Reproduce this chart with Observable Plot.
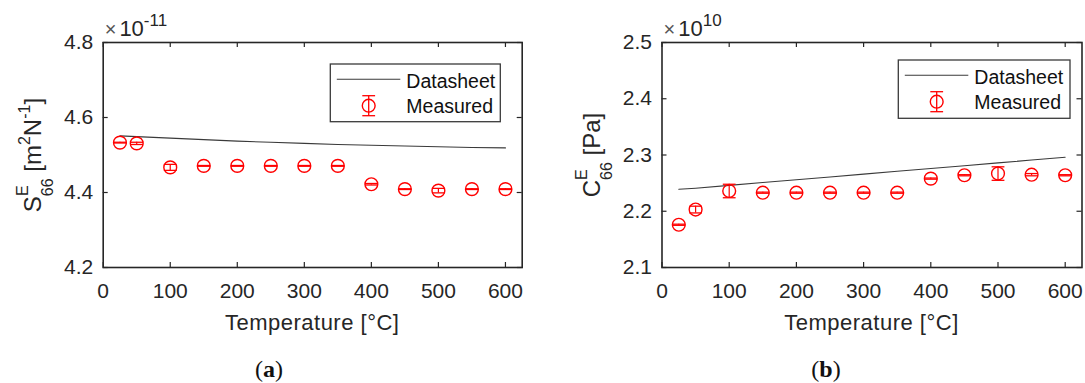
<!DOCTYPE html>
<html><head><meta charset="utf-8">
<script src="https://cdn.jsdelivr.net/npm/d3@7"></script>
<script src="https://cdn.jsdelivr.net/npm/@observablehq/plot@0.6"></script>
<style>
body{margin:0;background:#fff;}
#wrap{position:relative;width:1085px;height:383px;overflow:hidden;background:#fff;}
#wrap svg{position:absolute;top:0;overflow:visible;}
text{white-space:pre;}
</style></head><body><div id="wrap"></div>
<script>
// ---- data ----
const temps = [25, 50, 100, 150, 200, 250, 300, 350, 400, 450, 500, 550, 600];
// panel (a): S^E_66, in units of 1e-11 m^2/N
const sMeasured  = [4.533, 4.531, 4.467, 4.471, 4.471, 4.471, 4.471, 4.471, 4.422, 4.409, 4.405, 4.409, 4.409];
const sErr       = [0.001, 0.003, 0.008, 0.001, 0.001, 0.001, 0.001, 0.001, 0.002, 0.001, 0.006, 0.001, 0.001];
const sDatasheet = [4.551, 4.549, 4.545, 4.541, 4.537, 4.534, 4.531, 4.528, 4.526, 4.524, 4.522, 4.520, 4.519];
// panel (b): C^E_66, in units of 1e10 Pa
const cMeasured  = [2.176, 2.203, 2.236, 2.233, 2.233, 2.233, 2.233, 2.233, 2.258, 2.264, 2.267, 2.265, 2.264];
const cErr       = [0.001, 0.006, 0.012, 0.001, 0.001, 0.001, 0.001, 0.001, 0.001, 0.001, 0.012, 0.002, 0.001];
const cDatasheet = [2.239, 2.241, 2.246, 2.251, 2.256, 2.261, 2.266, 2.271, 2.276, 2.281, 2.286, 2.291, 2.296];
const xTicks  = [0, 100, 200, 300, 400, 500, 600];
const sYTicks = [4.2, 4.4, 4.6, 4.8];
const cYTicks = [2.1, 2.2, 2.3, 2.4, 2.5];
const xLabel = "Temperature [°C]";
const legendLabels = ["Datasheet", "Measured"];

const FONT = '"Liberation Sans", Arial, Helvetica, sans-serif';
const AX = "#262626";
const RED = "#ff0000";
const MT = 42, MB = 116, H = 383;

const capSymbol = { draw(ctx, size) { const w = Math.sqrt(size / Math.PI); ctx.moveTo(-w, 0); ctx.lineTo(w, 0); } };

function panel(o) {
  const meas = temps.map((t, i) => ({t, v: o.measured[i], lo: o.measured[i] - o.err[i], hi: o.measured[i] + o.err[i]}));
  const ds = temps.map((t, i) => ({t, v: o.sheet[i]}));
  const FH = H - MT - MB;
  const FW = o.width - o.marginLeft - o.marginRight;
  const svg = Plot.plot({
    width: o.width, height: H,
    marginLeft: o.marginLeft, marginRight: o.marginRight, marginTop: MT, marginBottom: MB,
    style: {fontFamily: FONT, color: AX, background: "transparent", overflow: "visible"},
    x: {domain: [0, 625]},
    y: {domain: o.yDomain},
    marks: [
      Plot.line(ds, {x: "t", y: "v", stroke: "#3a3a3a", strokeWidth: 1.1}),
      Plot.ruleX(meas, {x: "t", y1: "lo", y2: "hi", stroke: RED, strokeWidth: 1.2}),
      Plot.dot(meas, {x: "t", y: "lo", symbol: capSymbol, r: 6.4, stroke: RED, fill: "none", strokeWidth: 1.3}),
      Plot.dot(meas, {x: "t", y: "hi", symbol: capSymbol, r: 6.4, stroke: RED, fill: "none", strokeWidth: 1.3}),
      Plot.dot(meas, {x: "t", y: "v", r: 6.4, stroke: RED, fill: "none", strokeWidth: 1.4}),
      Plot.tickX(xTicks, {x: d => d, stroke: AX, strokeWidth: 1.2, insetTop: FH - 5}),
      Plot.tickX(xTicks, {x: d => d, stroke: AX, strokeWidth: 1.2, insetBottom: FH - 5}),
      Plot.tickY(o.yTicks, {y: d => d, stroke: AX, strokeWidth: 1.2, insetRight: FW - 5}),
      Plot.tickY(o.yTicks, {y: d => d, stroke: AX, strokeWidth: 1.2, insetLeft: FW - 5}),
      Plot.axisX({anchor: "bottom", ticks: xTicks, tickSize: 0, tickPadding: 16, tickFormat: d => String(d), fontSize: 21, color: AX, label: null}),
      Plot.axisY({anchor: "left", ticks: o.yTicks, tickSize: 0, tickPadding: 10, tickFormat: d => d.toFixed(1), fontSize: 21, color: AX, label: null}),
      Plot.frame({stroke: AX, strokeWidth: 1.6})
    ]
  });
  svg.style.left = o.left + "px";
  const s = d3.select(svg);
  const fl = o.marginLeft, fr = o.width - o.marginRight;
  // x label
  s.append("text").attr("x", (fl + fr) / 2).attr("y", 329.5).attr("text-anchor", "middle")
    .attr("font-family", FONT).attr("font-size", 22).attr("letter-spacing", 0.5).attr("fill", AX).text(xLabel);
  // y label
  const yl = s.append("text").attr("transform", `translate(${fl - 62},155) rotate(-90)`)
    .attr("text-anchor", "middle").attr("font-family", FONT).attr("font-size", 24).attr("fill", AX);
  o.yLabel(yl);
  // exponent
  const ex = s.append("text").attr("x", fl + 2).attr("y", 36).attr("text-anchor", "start").attr("font-family", FONT).attr("fill", AX);
  ex.append("tspan").attr("font-size", 20).attr("fill", "#555").text("×");
  ex.append("tspan").attr("font-size", 22).attr("dx", 3).text("10");
  ex.append("tspan").attr("font-size", 17).attr("dy", -10).text(o.exp);
  // legend
  const L = o.legend, lx = L.x - o.left;
  s.append("rect").attr("x", lx).attr("y", L.y).attr("width", L.w).attr("height", L.h)
    .attr("fill", "#fff").attr("stroke", "#3a3a3a").attr("stroke-width", 1.3);
  s.append("line").attr("x1", lx + 6.5).attr("x2", lx + 70).attr("y1", L.y + 15.3).attr("y2", L.y + 15.3)
    .attr("stroke", "#3a3a3a").attr("stroke-width", 1.1);
  const mx = lx + 38.4, my = L.y + 41.7;
  s.append("line").attr("x1", mx).attr("x2", mx).attr("y1", my - 10).attr("y2", my + 10).attr("stroke", RED).attr("stroke-width", 1.3);
  s.append("line").attr("x1", mx - 6.4).attr("x2", mx + 6.4).attr("y1", my - 10).attr("y2", my - 10).attr("stroke", RED).attr("stroke-width", 1.3);
  s.append("line").attr("x1", mx - 6.4).attr("x2", mx + 6.4).attr("y1", my + 10).attr("y2", my + 10).attr("stroke", RED).attr("stroke-width", 1.3);
  s.append("circle").attr("cx", mx).attr("cy", my).attr("r", 6.4).attr("fill", "none").attr("stroke", RED).attr("stroke-width", 1.4);
  s.append("text").attr("x", lx + 76).attr("y", L.y + 23.7).attr("text-anchor", "start").attr("font-family", FONT).attr("font-size", 19.5).attr("fill", "#111").text(legendLabels[0]);
  s.append("text").attr("x", lx + 76).attr("y", L.y + 49.3).attr("text-anchor", "start").attr("font-family", FONT).attr("font-size", 19.5).attr("fill", "#111").text(legendLabels[1]);
  // caption
  const cap = s.append("text").attr("x", o.capX - o.left).attr("y", 377).attr("text-anchor", "middle")
    .attr("font-family", '"Liberation Serif", "DejaVu Serif", serif').attr("font-size", 24).attr("fill", "#111");
  cap.append("tspan").text("(");
  cap.append("tspan").attr("font-weight", "bold").text(o.cap);
  cap.append("tspan").text(")");
  document.getElementById("wrap").appendChild(svg);
}

function scriptLabel(main, rest) {
  return (t) => {
    t.append("tspan").text(main);
    t.append("tspan").attr("font-size", 16).attr("dy", -13).text("E");
    t.append("tspan").attr("font-size", 16).attr("dx", -10.7).attr("dy", 25).text("66");
    rest(t);
  };
}

panel({
  left: 0, width: 540, marginLeft: 102.7, marginRight: 18.3,
  yDomain: [4.2, 4.8], yTicks: sYTicks, measured: sMeasured, err: sErr, sheet: sDatasheet,
  exp: "-11", cap: "a", capX: 269,
  legend: {x: 330.3, y: 64, w: 170, h: 57.7},
  yLabel: scriptLabel("S", t => {
    t.append("tspan").attr("dy", -12).text(" [m");
    t.append("tspan").attr("font-size", 16).attr("dy", -11).text("2");
    t.append("tspan").attr("dy", 11).text("N");
    t.append("tspan").attr("font-size", 16).attr("dy", -11).text("-1");
    t.append("tspan").attr("dy", 11).text("]");
  })
});
panel({
  left: 540, width: 545, marginLeft: 121.5, marginRight: 3.5,
  yDomain: [2.1, 2.5], yTicks: cYTicks, measured: cMeasured, err: cErr, sheet: cDatasheet,
  exp: "10", cap: "b", capX: 826,
  legend: {x: 898.3, y: 60, w: 171.7, h: 58.3},
  yLabel: scriptLabel("C", t => {
    t.append("tspan").attr("dy", -12).text(" [Pa]");
  })
});
</script></body></html>
